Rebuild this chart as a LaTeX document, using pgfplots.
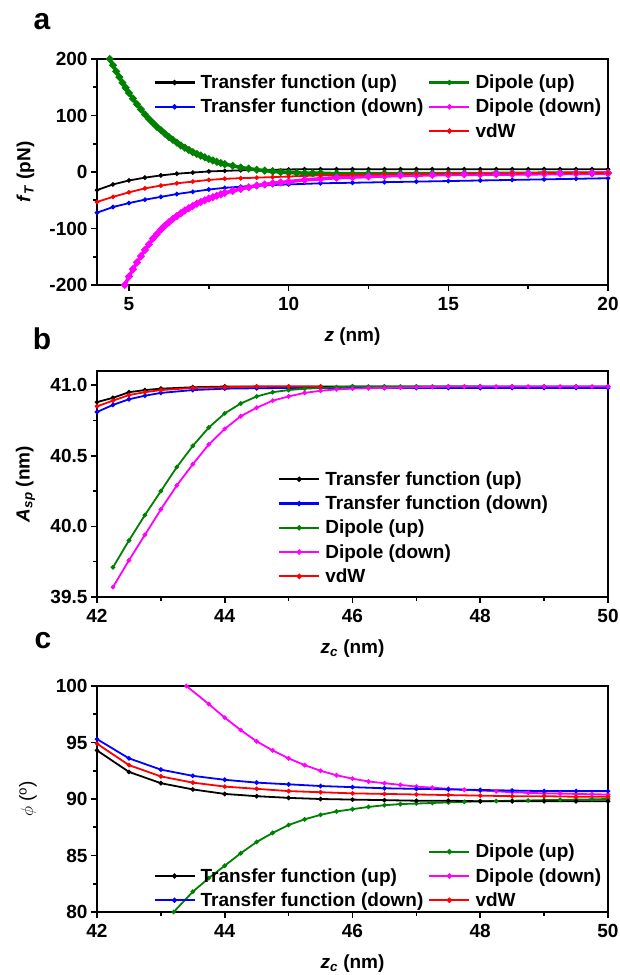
\documentclass[border=0pt]{standalone}
\usepackage{fontspec}
\setmainfont{Liberation Sans}
\usepackage{pgfplots}
\pgfplotsset{compat=1.18}

\definecolor{cgreen}{RGB}{0,128,0}
\definecolor{cblue}{RGB}{0,0,255}
\definecolor{cred}{RGB}{255,0,0}
\definecolor{cmag}{RGB}{255,0,255}

\newcommand{\bigf}{\fontsize{19}{22}\selectfont}

\pgfplotsset{
  panel/.style={
    scale only axis, width=511pt, height=226pt,
    axis line style={line width=2pt},
    tick pos=left, tick align=outside,
    major tick length=6pt, minor tick length=3.5pt,
    every tick/.style={line width=1.6pt, black},
    minor x tick num=1, minor y tick num=1,
    /pgf/number format/assume math mode=true,
    tick label style={font=\bigf\bfseries},
    xticklabel style={yshift=-3pt},
    label style={font=\bigf\bfseries},
    legend style={draw=none, fill=none, font=\bigf\bfseries, inner sep=0pt,
      row sep=7pt, column sep=4pt, nodes={inner sep=1pt}},
    legend cell align=left,
    legend image code/.code={\draw[mark repeat=2,mark phase=2,##1,
      line width=2.2pt, mark size=1.4pt]
      plot coordinates {(0pt,0pt) (20pt,0pt) (40pt,0pt)};},
    every axis plot/.append style={line width=1.8pt, mark=*, mark size=1.3pt},
    x label style={at={(axis description cs:0.5,-0.23)}, anchor=center},
    y label style={at={(axis description cs:-0.14,0.5)}, anchor=center},
  },
  thick band/.style={line width=3.5pt, mark size=1.7pt},
}

\begin{document}
\begin{tikzpicture}
\useasboundingbox (0pt,0pt) rectangle (620pt,-975pt);

\node[font=\fontsize{30}{32}\selectfont\bfseries] at (42pt,-22pt) {a};
\node[font=\fontsize{30}{32}\selectfont\bfseries] at (42pt,-339pt) {b};
\node[font=\fontsize{30}{32}\selectfont\bfseries] at (43pt,-641pt) {c};

% ---- panel a: force
\begin{axis}[panel, at={(97pt,-285pt)}, anchor=south west,
  xmin=4, xmax=20, ymin=-200, ymax=200,
  xtick={5,10,15,20}, ytick={-200,-100,0,100,200},
  xlabel={\textit{z} (nm)},
  ylabel={\textit{f}\textsubscript{\textit{T}} (pN)},
  legend columns=2,
  legend style={at={(0.11,0.935)}, anchor=north west}]

\addplot[black] coordinates {
 (4.0,-32) (4.5,-22) (5.0,-15) (5.5,-10) (6.0,-6) (6.5,-3) (7.0,-1)
 (7.5,1) (8.0,2) (8.5,3) (9.0,3.5) (9.5,4) (10,4.5) (10.5,5) (11,5)
 (11.5,5) (12,5) (12.5,5) (13,5) (13.5,5) (14,5) (14.5,5) (15,5)
 (15.5,5) (16,5) (16.5,5) (17,5) (17.5,5) (18,5) (18.5,5) (19,5)
 (19.5,5) (20,5)};
\addlegendentry{Transfer function (up)}

\addplot[cgreen, thick band] coordinates {
 (4.4,200) (4.5,189) (4.6,178) (4.7,168) (4.8,158) (4.9,149) (5.0,140)
 (5.125,130) (5.25,120) (5.375,111) (5.5,102) (5.625,94) (5.75,87)
 (5.875,80) (6.0,74) (6.125,68) (6.25,62) (6.375,57) (6.5,52) (6.625,47)
 (6.75,43) (6.875,39) (7.0,35) (7.125,32) (7.25,29) (7.375,26) (7.5,23)
 (7.625,20.5) (7.75,18) (7.875,16) (8.0,14) (8.25,11) (8.5,8) (8.75,6)
 (9.0,4) (9.25,2.5) (9.5,1) (9.75,0) (10,-1) (10.25,-1.5) (10.5,-2)
 (10.75,-2) (11,-2) (11.5,-3) (12,-3) (12.5,-3) (13,-3) (13.5,-3) (14,-3)
 (14.5,-3) (15,-3) (15.5,-3) (16,-3) (16.5,-2.5) (17,-2.5) (17.5,-2.5)
 (18,-2) (18.5,-2) (19,-2) (19.5,-2) (20,-2)};
\addlegendentry{Dipole (up)}

\addplot[cblue] coordinates {
 (4.0,-72) (4.5,-62) (5.0,-55) (5.5,-49) (6.0,-44) (6.5,-39) (7.0,-35)
 (7.5,-31) (8.0,-28) (8.5,-26) (9.0,-24) (9.5,-23) (10,-22) (11,-20)
 (12,-19) (13,-18) (14,-17) (15,-16) (16,-15) (17,-14) (18,-13)
 (19,-12) (20,-11)};
\addlegendentry{Transfer function (down)}

\addplot[cmag, thick band] coordinates {
 (4.87,-200) (5.0,-185) (5.125,-172) (5.25,-160) (5.375,-149) (5.5,-138)
 (5.625,-128) (5.75,-118) (5.875,-110) (6.0,-102) (6.125,-95) (6.25,-89)
 (6.375,-83) (6.5,-78) (6.625,-73) (6.75,-68) (6.875,-64) (7.0,-60)
 (7.125,-56) (7.25,-53) (7.375,-50) (7.5,-47) (7.625,-44.5) (7.75,-42)
 (7.875,-39.5) (8.0,-37) (8.25,-33.5) (8.5,-30) (8.75,-27) (9.0,-24)
 (9.25,-22) (9.5,-20) (9.75,-18.5) (10,-17) (10.5,-14) (11,-12)
 (11.5,-10) (12,-9) (12.5,-8) (13,-7) (13.5,-6) (14,-5.5) (14.5,-5)
 (15,-4.5) (15.5,-4) (16,-4) (16.5,-3.7) (17,-3.5) (17.5,-3.2) (18,-3)
 (18.5,-2.7) (19,-2.5) (19.5,-2.2) (20,-2)};
\addlegendentry{Dipole (down)}

\addlegendimage{empty legend}
\addlegendentry{}

\addplot[cred] coordinates {
 (4.0,-53) (4.5,-44) (5.0,-36) (5.5,-29) (6.0,-24) (6.5,-20) (7.0,-17)
 (7.5,-14) (8,-12) (8.5,-11) (9,-10) (9.5,-9) (10,-8) (11,-6) (12,-5)
 (13,-4) (14,-3.5) (15,-3) (16,-2.5) (17,-2.5) (18,-2) (19,-2) (20,-2)};
\addlegendentry{vdW}
\end{axis}

% ---- panel b: amplitude
\begin{axis}[panel, at={(97pt,-597pt)}, anchor=south west,
  xmin=42, xmax=50, ymin=39.5, ymax=41.1,
  xtick={42,44,46,48,50}, ytick={39.5,40,40.5,41},
  yticklabel style={/pgf/number format/.cd, fixed, fixed zerofill, precision=1},
  xlabel={\textit{z}\textsubscript{\textit{c}} (nm)},
  ylabel={\textit{A}\textsubscript{\textit{sp}} (nm)},
  legend style={at={(0.354,0.56)}, anchor=north west}]

\addplot[black] coordinates {
 (42.0,40.88) (42.25,40.91) (42.5,40.95) (42.75,40.965) (43,40.975)
 (43.5,40.985) (44,40.99) (44.5,40.99) (45,40.99) (45.5,40.99) (46,40.99)
 (46.5,40.99) (47,40.99) (47.5,40.99) (48,40.99) (48.5,40.99) (49,40.99)
 (49.5,40.99) (50,40.99)};
\addlegendentry{Transfer function (up)}

\addplot[cblue] coordinates {
 (42.0,40.81) (42.25,40.86) (42.5,40.90) (42.75,40.925) (43,40.945)
 (43.5,40.965) (44,40.975) (44.5,40.978) (45,40.98) (45.5,40.98) (46,40.98)
 (46.5,40.98) (47,40.98) (47.5,40.98) (48,40.98) (48.5,40.98) (49,40.98)
 (49.5,40.98) (50,40.98)};
\addlegendentry{Transfer function (down)}

\addplot[cgreen] coordinates {
 (42.25,39.71) (42.5,39.90) (42.75,40.08) (43,40.25) (43.25,40.42)
 (43.5,40.57) (43.75,40.70) (44,40.80) (44.25,40.87) (44.5,40.92)
 (44.75,40.95) (45,40.965) (45.25,40.975) (45.5,40.98) (45.75,40.985)
 (46,40.99) (46.25,40.99) (46.5,40.99) (46.75,40.99) (47,40.99)
 (47.25,40.99) (47.5,40.99) (47.75,40.99) (48,40.99)};
\addlegendentry{Dipole (up)}

\addplot[cmag] coordinates {
 (42.25,39.57) (42.5,39.76) (42.75,39.94) (43,40.12) (43.25,40.29)
 (43.5,40.44) (43.75,40.58) (44,40.69) (44.25,40.78) (44.5,40.84)
 (44.75,40.89) (45,40.92) (45.25,40.945) (45.5,40.96) (45.75,40.97)
 (46,40.975) (46.25,40.978) (46.5,40.98) (46.75,40.982) (47,40.985)
 (47.25,40.987) (47.5,40.99) (47.75,40.99) (48,40.99) (48.25,40.99)
 (48.5,40.99) (48.75,40.99) (49,40.99) (49.25,40.99) (49.5,40.99)
 (49.75,40.99) (50,40.99)};
\addlegendentry{Dipole (down)}

\addplot[cred] coordinates {
 (42.0,40.85) (42.25,40.89) (42.5,40.93) (42.75,40.95) (43,40.965)
 (43.5,40.98) (44,40.985) (44.5,40.99) (45,40.99) (45.5,40.99)};
\addlegendentry{vdW}
\end{axis}

% ---- panel c: phase
\begin{axis}[panel, at={(97pt,-912pt)}, anchor=south west,
  xmin=42, xmax=50, ymin=80, ymax=100,
  xtick={42,44,46,48,50}, ytick={80,85,90,95,100},
  xlabel={\textit{z}\textsubscript{\textit{c}} (nm)},
  ylabel={\mdseries$\phi$ (\textsuperscript{o})},
  y label style={at={(axis description cs:-0.135,0.5)}},
  legend columns=2,
  legend style={at={(0.11,0.013)}, anchor=south west}]

\addlegendimage{empty legend}
\addlegendentry{}

\addplot[cgreen] coordinates {
 (43.2,80) (43.5,81.8) (43.75,83.0) (44,84.1) (44.25,85.2) (44.5,86.2)
 (44.75,87.0) (45,87.7) (45.25,88.2) (45.5,88.6) (45.75,88.9) (46,89.1)
 (46.25,89.3) (46.5,89.45) (46.75,89.55) (47,89.6) (47.25,89.65)
 (47.5,89.7) (47.75,89.75) (48,89.8) (48.25,89.82) (48.5,89.85)
 (48.75,89.87) (49,89.9) (49.25,89.92) (49.5,89.95) (49.75,89.97) (50,90.0)};
\addlegendentry{Dipole (up)}

\addplot[black] coordinates {
 (42,94.3) (42.5,92.4) (43,91.4) (43.5,90.85) (44,90.45) (44.5,90.25)
 (45,90.1) (45.5,90.0) (46,89.95) (46.5,89.9) (47,89.85) (47.5,89.85)
 (48,89.8) (48.5,89.8) (49,89.8) (49.5,89.8) (50,89.8)};
\addlegendentry{Transfer function (up)}

\addplot[cmag] coordinates {
 (43.4,100) (43.75,98.4) (44,97.2) (44.25,96.1) (44.5,95.1) (44.75,94.3)
 (45,93.6) (45.25,93.0) (45.5,92.5) (45.75,92.1) (46,91.8) (46.25,91.55)
 (46.5,91.4) (46.75,91.25) (47,91.1) (47.25,91.0) (47.5,90.9)
 (47.75,90.82) (48,90.75) (48.25,90.68) (48.5,90.6) (48.75,90.55)
 (49,90.5) (49.25,90.48) (49.5,90.45) (49.75,90.42) (50,90.4)};
\addlegendentry{Dipole (down)}

\addplot[cblue] coordinates {
 (42,95.3) (42.5,93.6) (43,92.6) (43.5,92.05) (44,91.7) (44.5,91.45)
 (45,91.3) (45.5,91.15) (46,91.05) (46.5,90.95) (47,90.9) (47.5,90.85)
 (48,90.8) (48.5,90.75) (49,90.7) (49.5,90.7) (50,90.7)};
\addlegendentry{Transfer function (down)}

\addplot[cred] coordinates {
 (42,94.9) (42.5,93.0) (43,92.0) (43.5,91.45) (44,91.1) (44.5,90.9)
 (45,90.7) (45.5,90.6) (46,90.5) (46.5,90.45) (47,90.4) (47.5,90.35)
 (48,90.3) (48.5,90.25) (49,90.25) (49.5,90.2) (50,90.2)};
\addlegendentry{vdW}
\end{axis}
\end{tikzpicture}
\end{document}
